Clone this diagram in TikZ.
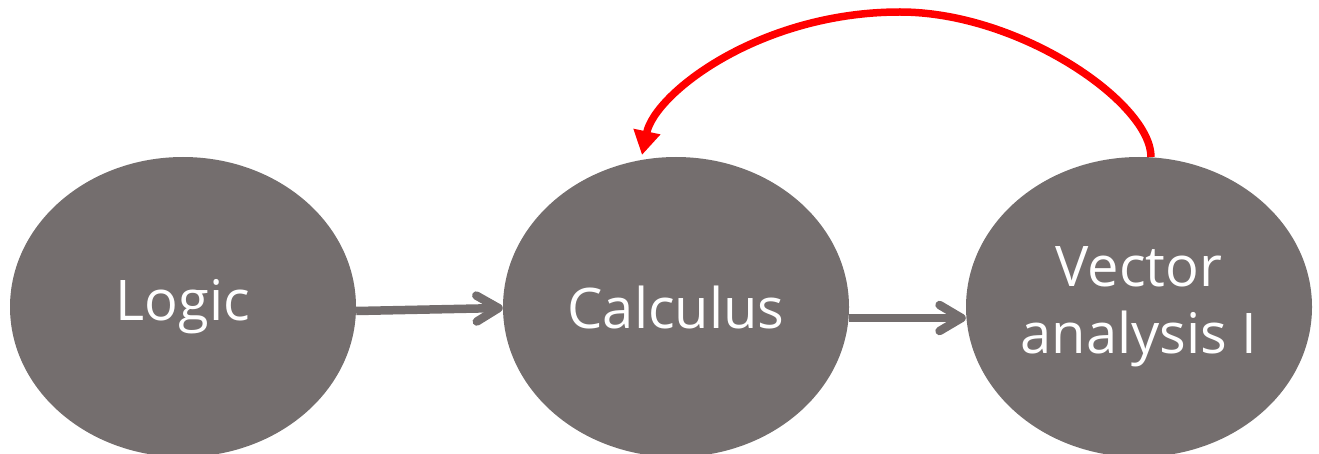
\documentclass[tikz,border=0pt]{standalone}
\usepackage{fontspec}
\setmainfont{Open Sans}
\usetikzlibrary{shapes.geometric,arrows.meta}
\definecolor{nodegrey}{RGB}{116,110,110}
\definecolor{arcred}{RGB}{255,0,0}
\tikzset{
  bubble/.style={ellipse, fill=nodegrey, draw=none, minimum width=346pt, minimum height=300pt, inner sep=0pt,
     text=white, font=\fontsize{56}{67}\selectfont, align=center},
  flow/.style={draw=nodegrey, line width=8.5pt, -{Straight Barb[length=22pt,width=26pt,line cap=round,line join=round]}},
  back/.style={draw=arcred, line width=7.5pt, -{Triangle[length=24pt,width=26pt]}}
}
\begin{document}
\begin{tikzpicture}[x=1pt,y=1pt]
\useasboundingbox (0,0) rectangle (1319,453);
\node[bubble] (logic) at (183,146) {Logic};
\node[bubble] (calc) at (676,146) {Calculus};
\node[bubble] (vec) at (1139,146) {Vector\\analysis I};
\coordinate (vtop) at (1151,296);
\coordinate (ctop) at (642,298);
\draw[flow] (logic.east |- 0,142) -- (calc.west |- 0,145);
\draw[flow] (calc.east |- 0,135) -- (vec.west |- 0,135);
\draw[back] (vtop) .. controls (1151,350) and (1020,441) .. (900,441) .. controls (760,441) and (655,360) .. (ctop);
\end{tikzpicture}
\end{document}
